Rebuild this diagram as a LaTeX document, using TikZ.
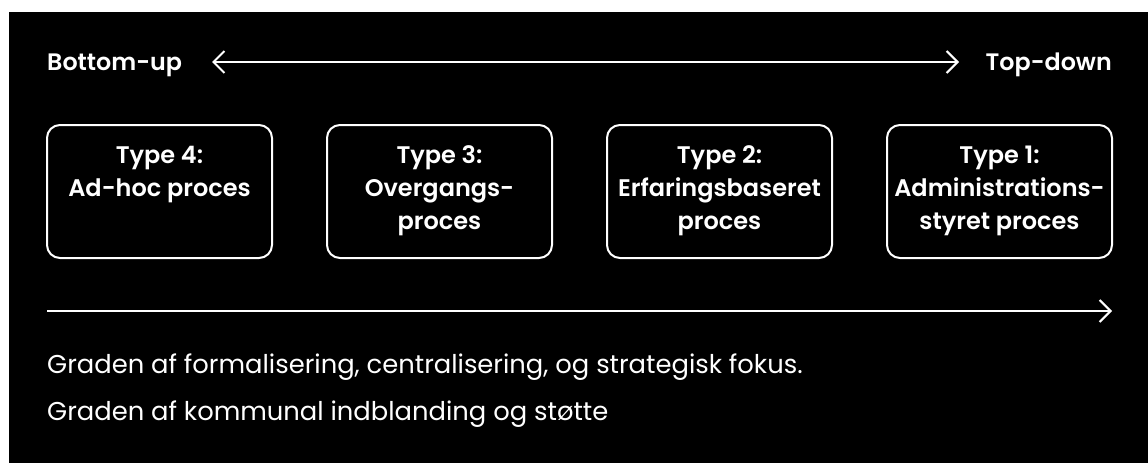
\documentclass[tikz,border=0pt]{standalone}
\usepackage{fontspec}
\setmainfont{Poppins}[BoldFont={Poppins SemiBold}]
\usetikzlibrary{arrows.meta}
\tikzset{
  typebox/.style={draw=white, line width=2pt, rounded corners=13pt, minimum width=225pt, minimum height=133pt, inner sep=0pt},
  boxtext/.style={text=white, align=center, inner sep=0pt, font=\fontsize{24}{33}\selectfont\bfseries},
  sidelabel/.style={text=white, inner sep=0pt, font=\fontsize{23.8}{28}\selectfont\bfseries},
  bodytext/.style={text=white, inner sep=0pt, font=\fontsize{25.8}{30}\selectfont},
  axis/.style={draw=white, line width=2pt}
}
\begin{document}
\begin{tikzpicture}[x=1pt, y=-1pt]
\useasboundingbox (0,0) rectangle (1148,463);
\fill[white] (0,0) rectangle (1148,463);
\fill[black] (9,12) rectangle (1148,463);
% top axis
\node[sidelabel, anchor=base west] (bu) at (47,70) {Bottom-up};
\node[sidelabel, anchor=base east] (td) at (1112,70) {Top-down};
\coordinate (ta) at (212,62);
\coordinate (tb) at (959,62);
\draw[axis, {Straight Barb[length=11pt, width=22pt]}-{Straight Barb[length=11pt, width=22pt]}] (ta) -- (tb);
% boxes
\node[typebox] (b4) at (159.5,191.5) {};
\node[typebox] (b3) at (439.5,191.5) {};
\node[typebox] (b2) at (719.5,191.5) {};
\node[typebox] (b1) at (999.5,191.5) {};
\node[boxtext, anchor=base] (t4) at (159.5,196) {Type 4:\\Ad-hoc proces};
\node[boxtext, anchor=base] (t3) at (439.5,229) {Type 3:\\Overgangs-\\proces};
\node[boxtext, anchor=base] (t2) at (719.5,229) {Type 2:\\Erfaringsbaseret\\proces};
\node[boxtext, anchor=base] (t1) at (999.5,229) {Type 1:\\Administrations-\\styret proces};
% bottom axis
\coordinate (ba) at (47,311);
\coordinate (bb) at (1112,311);
\draw[axis, -{Straight Barb[length=11pt, width=22pt]}] (ba) -- (bb);
\node[bodytext, anchor=base west] (g1) at (47,373) {Graden af formalisering, centralisering, og strategisk fokus.};
\node[bodytext, anchor=base west] (g2) at (47,420) {Graden af kommunal indblanding og støtte};
\end{tikzpicture}
\end{document}
